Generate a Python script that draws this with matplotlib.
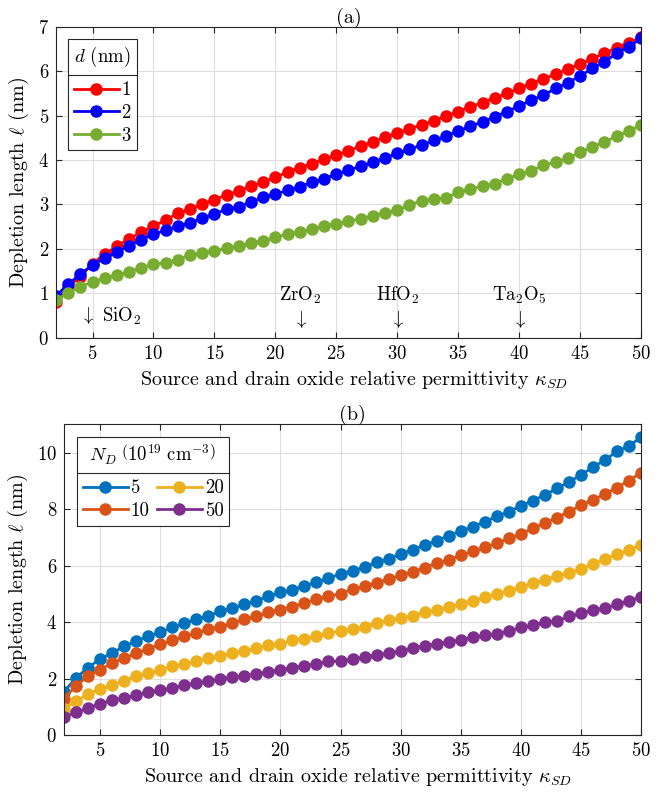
import matplotlib
matplotlib.use("Agg")
import matplotlib.pyplot as plt
from matplotlib.lines import Line2D
import numpy as np

plt.rcParams["font.family"] = "cmr10"
plt.rcParams["mathtext.fontset"] = "cm"
plt.rcParams["axes.formatter.use_mathtext"] = True
plt.rcParams["axes.unicode_minus"] = False

kappa = list(range(2, 51))

# (a) depletion length vs kappa for oxide thickness d (nm)
d_labels = ["1", "2", "3"]
ell_d1 = [0.81, 1.15, 1.37, 1.67, 1.88, 2.06, 2.23, 2.37, 2.51, 2.65,
          2.80, 2.89, 3.01, 3.11, 3.21, 3.31, 3.41, 3.51, 3.61, 3.73,
          3.83, 3.92, 4.02, 4.11, 4.21, 4.31, 4.41, 4.51, 4.61, 4.70,
          4.79, 4.88, 4.99, 5.09, 5.20, 5.29, 5.40, 5.50, 5.61, 5.72,
          5.83, 5.93, 6.05, 6.16, 6.28, 6.40, 6.53, 6.64, 6.76]
ell_d2 = [0.94, 1.20, 1.43, 1.64, 1.79, 1.93, 2.07, 2.21, 2.33, 2.42,
          2.51, 2.59, 2.69, 2.79, 2.89, 2.95, 3.06, 3.16, 3.23, 3.32,
          3.40, 3.50, 3.58, 3.68, 3.77, 3.86, 3.95, 4.05, 4.15, 4.24,
          4.34, 4.44, 4.54, 4.65, 4.76, 4.86, 4.97, 5.09, 5.21, 5.35,
          5.46, 5.61, 5.74, 5.89, 6.06, 6.21, 6.40, 6.55, 6.74]
ell_d3 = [0.85, 1.01, 1.15, 1.25, 1.34, 1.41, 1.49, 1.58, 1.65, 1.69,
          1.76, 1.86, 1.90, 1.96, 2.01, 2.06, 2.14, 2.18, 2.26, 2.33,
          2.39, 2.44, 2.51, 2.57, 2.63, 2.67, 2.75, 2.81, 2.87, 2.99,
          3.08, 3.12, 3.15, 3.27, 3.35, 3.41, 3.47, 3.58, 3.68, 3.75,
          3.89, 3.95, 4.04, 4.17, 4.30, 4.40, 4.54, 4.65, 4.79]

# (b) depletion length vs kappa for doping N_D (1e19 cm^-3)
nd_labels = ["5", "10", "20", "50"]
ell_n5 = [1.54, 2.02, 2.39, 2.69, 2.90, 3.14, 3.34, 3.49, 3.64, 3.81,
          3.96, 4.10, 4.22, 4.38, 4.49, 4.63, 4.76, 4.91, 5.05, 5.14,
          5.28, 5.41, 5.55, 5.71, 5.81, 5.94, 6.12, 6.24, 6.42, 6.56,
          6.73, 6.88, 7.06, 7.22, 7.38, 7.55, 7.74, 7.91, 8.11, 8.30,
          8.50, 8.73, 8.96, 9.21, 9.48, 9.74, 10.04, 10.24, 10.54]
ell_n10 = [1.29, 1.75, 2.08, 2.31, 2.55, 2.72, 2.90, 3.05, 3.22, 3.35,
           3.49, 3.61, 3.75, 3.84, 3.96, 4.10, 4.20, 4.34, 4.43, 4.55,
           4.67, 4.81, 4.91, 5.00, 5.17, 5.26, 5.40, 5.52, 5.65, 5.78,
           5.93, 6.08, 6.20, 6.36, 6.50, 6.64, 6.79, 6.96, 7.12, 7.32,
           7.50, 7.70, 7.91, 8.13, 8.33, 8.53, 8.76, 9.01, 9.29]
ell_n20 = [0.93, 1.19, 1.45, 1.63, 1.78, 1.93, 2.08, 2.19, 2.31, 2.43,
           2.51, 2.63, 2.72, 2.81, 2.90, 2.98, 3.08, 3.17, 3.23, 3.35,
           3.41, 3.49, 3.61, 3.68, 3.76, 3.84, 3.96, 4.06, 4.14, 4.23,
           4.34, 4.43, 4.53, 4.65, 4.76, 4.87, 5.00, 5.11, 5.24, 5.38,
           5.50, 5.64, 5.75, 5.88, 6.06, 6.23, 6.40, 6.56, 6.73]
ell_n50 = [0.64, 0.81, 0.96, 1.11, 1.23, 1.31, 1.43, 1.52, 1.58, 1.66,
           1.76, 1.84, 1.90, 1.98, 2.05, 2.10, 2.16, 2.24, 2.31, 2.39,
           2.46, 2.52, 2.61, 2.62, 2.69, 2.75, 2.84, 2.90, 2.96, 3.08,
           3.16, 3.23, 3.31, 3.37, 3.46, 3.53, 3.58, 3.69, 3.81, 3.88,
           3.99, 4.04, 4.20, 4.32, 4.43, 4.49, 4.63, 4.76, 4.88]

# oxide markers in (a)
oxides = ["ZrO$_2$", "HfO$_2$", "Ta$_2$O$_5$"]
oxide_kappa = [22, 30, 40]

AX_COLOR = "#262626"
GRID_COLOR = "#dedede"
FS = 13.5
LFS = 14.5


def _style(ax, ylim, yticks):
    ax.set_xlim(2, 50)
    ax.set_ylim(*ylim)
    ax.set_xticks(range(5, 51, 5))
    ax.set_yticks(yticks)
    ax.grid(True, color=GRID_COLOR, linewidth=0.8)
    ax.set_axisbelow(True)
    ax.tick_params(direction="in", top=True, right=True, length=4,
                   color=AX_COLOR, labelsize=FS, labelcolor="black", pad=5)
    for sp in ax.spines.values():
        sp.set_color(AX_COLOR)
        sp.set_linewidth(0.8)
    ax.set_xlabel(r"Source and drain oxide relative permittivity $\kappa_{SD}$",
                  fontsize=LFS)
    ax.xaxis.set_label_coords(0.51, -0.1)
    ax.set_ylabel(r"Depletion length $\ell$ (nm)", fontsize=LFS, labelpad=5)


def _legend(ax, title, ncol, anchor):
    leg = ax.legend(title=title, ncol=ncol, loc="upper left", bbox_to_anchor=anchor,
                    fontsize=FS, title_fontsize=FS, fancybox=False, framealpha=1,
                    edgecolor=AX_COLOR, handlelength=2.4, handletextpad=0.15,
                    borderpad=0.3, labelspacing=0.25, columnspacing=0.4,
                    borderaxespad=0)
    leg.get_frame().set_linewidth(0.8)
    leg._legend_box.sep = 9
    return leg


def _title_rule(fig, leg):
    # MATLAB-style separator under the legend title
    r = fig.canvas.get_renderer()
    fb = leg.get_frame().get_window_extent(r)
    tb = leg.get_title().get_window_extent(r)
    hb = leg._legend_handle_box.get_window_extent(r)
    y = 0.5 * (tb.y0 + hb.y1) / fig.bbox.height
    fig.add_artist(Line2D([fb.x0 / fig.bbox.width, fb.x1 / fig.bbox.width], [y, y],
                          color=AX_COLOR, linewidth=0.8))


fig = plt.figure(figsize=(6.69, 7.93), dpi=100)
ax1 = fig.add_axes([0.0837, 0.5741, 0.8744, 0.3922])
ax2 = fig.add_axes([0.0957, 0.0731, 0.8625, 0.3918])

mk = dict(marker="o", markersize=8, linewidth=2.0)
for vals, col, lab in zip([ell_d1, ell_d2, ell_d3], ["#ff0000", "#0000ff", "#77ac30"], d_labels):
    ax1.plot(kappa, vals, color=col, label=lab, **mk)
_style(ax1, (0, 7), range(0, 8))
ax1.set_title("(a)", fontsize=LFS, pad=3)

ax1.text(4, 0.47, r"$\downarrow$ SiO$_2$", fontsize=FS, ha="left", va="center")
for name, kx in zip(oxides, oxide_kappa):
    ax1.text(kx, 0.95, name, fontsize=FS, ha="center", va="center")
    ax1.text(kx, 0.42, r"$\downarrow$", fontsize=FS, ha="center", va="center")

leg1 = _legend(ax1, r"$d$ (nm)", 1, (0.0205, 0.96))

colors_b = ["#0072bd", "#d95319", "#edb120", "#7e2f8e"]
for vals, col, lab in zip([ell_n5, ell_n10, ell_n20, ell_n50], colors_b, nd_labels):
    ax2.plot(kappa, vals, color=col, label=lab, **mk)
_style(ax2, (0, 11), range(0, 11, 2))
ax2.set_title("(b)", fontsize=LFS, pad=3)

leg2 = _legend(ax2, r"$N_D\ \left(10^{19}\ \mathrm{cm}^{-3}\right)$", 2, (0.0225, 0.959))

fig.canvas.draw()
_title_rule(fig, leg1)
_title_rule(fig, leg2)

fig.savefig("out.png", dpi=100)
